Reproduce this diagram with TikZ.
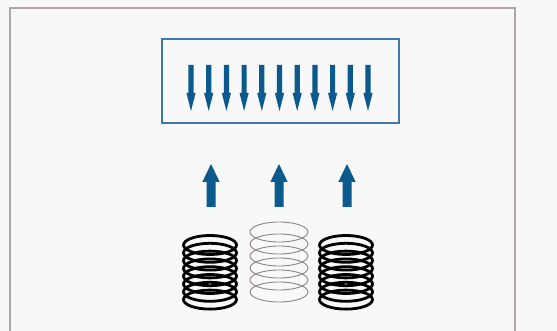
\documentclass[tikz,border=0pt]{standalone}
\definecolor{bg}{HTML}{F8F8F8}
\definecolor{frame}{HTML}{B0A8A8}
\definecolor{arrowblue}{HTML}{0B5A8E}
\definecolor{boxblue}{HTML}{3D7AAB}
\definecolor{coilgray}{HTML}{8E8684}
\begin{document}
\begin{tikzpicture}[x=1pt,y=-1pt,
  downarrow/.style={fill=arrowblue},
  uparrow/.style={fill=arrowblue},
  thickcoil/.style={draw=black,line width=2.8pt},
  thincoil/.style={draw=coilgray,line width=0.9pt}]
\fill[bg] (0,0) rectangle (557,331);
\useasboundingbox (0,0) rectangle (557,331);
\draw[frame,line width=1.5pt] (10,340) -- (10,8) -- (515,8) -- (515,340);
\draw[boxblue,line width=1.3pt] (162,39) rectangle (399,123);
\foreach \i in {0,...,10}{
  \pgfmathsetmacro{\cx}{191+\i*17.7}
  \fill[downarrow] (\cx-2.6,65) -- (\cx+2.6,65) -- (\cx+2.6,93) -- (\cx+4.6,93) -- (\cx,111) -- (\cx-4.6,93) -- (\cx-2.6,93) -- cycle;
}
\foreach \cx in {211,279,347}{
  \fill[uparrow] (\cx-4.5,207) -- (\cx+4.5,207) -- (\cx+4.5,182) -- (\cx+8.7,182) -- (\cx,164) -- (\cx-8.7,182) -- (\cx-4.5,182) -- cycle;
}
\foreach \cx in {210,346}{
  \foreach \j in {0,...,7}{
    \draw[thickcoil] (\cx,245+\j*7.8) ellipse [x radius=26.5, y radius=9.5];
  }
}
\foreach \j in {0,...,5}{
  \draw[thincoil] (279,232+\j*12) ellipse [x radius=29, y radius=10];
}
\end{tikzpicture}
\end{document}
